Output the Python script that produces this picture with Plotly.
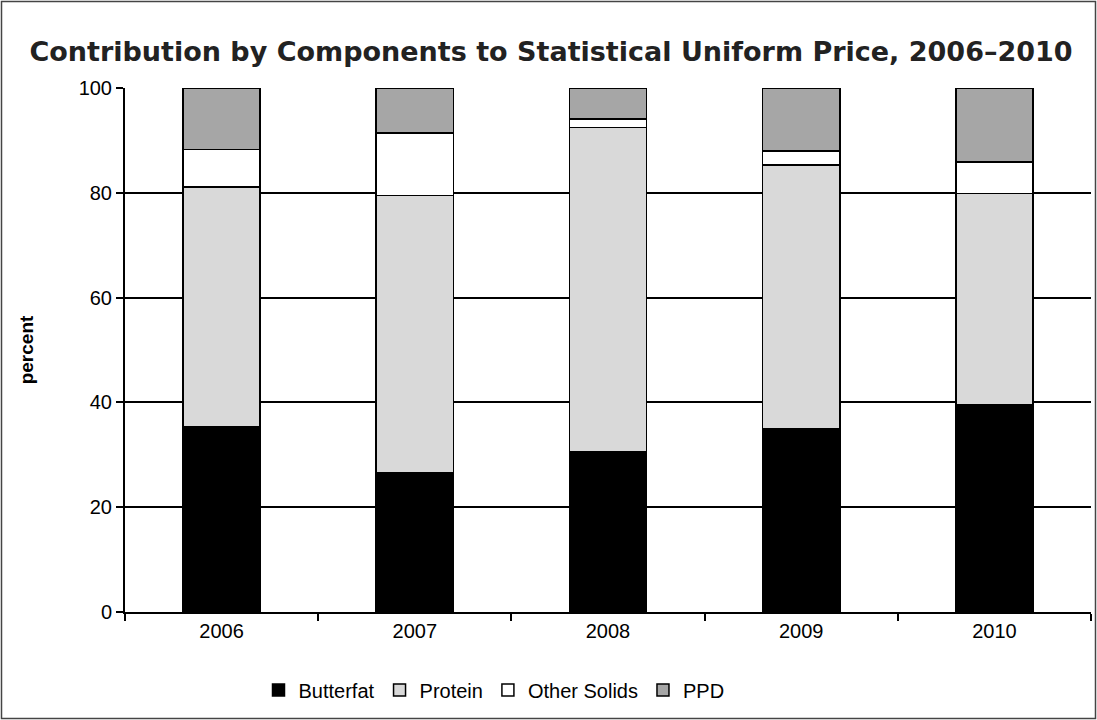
import plotly.graph_objects as go

years = ["2006", "2007", "2008", "2009", "2010"]
butterfat = [35.4, 26.6, 30.6, 34.9, 39.5]
protein = [45.7, 52.9, 61.9, 50.4, 40.4]
other_solids = [7.2, 11.9, 1.6, 2.7, 6.0]
ppd = [11.7, 8.6, 5.9, 12.0, 14.1]

series = [
    ("Butterfat", butterfat, "#000000"),
    ("Protein", protein, "#d9d9d9"),
    ("Other Solids", other_solids, "#ffffff"),
    ("PPD", ppd, "#a6a6a6"),
]

fig = go.Figure()
for name, vals, col in series:
    fig.add_trace(go.Bar(
        x=years, y=vals, name=name,
        marker=dict(color=col, line=dict(color="#000000", width=1.5)),
        width=0.4,
    ))

font = "Liberation Sans, Arial, sans-serif"
W, H = 1097, 720
L, R, T, B = 125, 6, 88, 108
pw, ph = W - L - R, H - T - B
fig.update_layout(
    barmode="stack",
    width=W, height=H,
    paper_bgcolor="white", plot_bgcolor="white",
    margin=dict(l=L, r=R, t=T, b=B),
    font=dict(family=font, size=20, color="#000000"),
    title=dict(
        text="<b>Contribution by Components to Statistical Uniform Price, 2006–2010</b>",
        x=(551 - L) / pw, xref="paper", xanchor="center", y=1 - 52 / H, yanchor="middle",
        font=dict(family="DejaVu Sans, sans-serif", size=27, color="#222222"),
    ),
    showlegend=True,
    legend=dict(
        orientation="h", x=(494 - L) / pw, xanchor="center", y=-(690 - (H - B)) / ph, yanchor="middle",
        font=dict(size=20), itemwidth=30, traceorder="normal",
        bgcolor="rgba(0,0,0,0)",
    ),
)
fig.update_xaxes(
    showline=True, linecolor="#000000", linewidth=2,
    ticks="outside", tickson="boundaries", ticklen=7, tickwidth=2, tickcolor="#000000",
    showgrid=False, tickfont=dict(size=20),
)
fig.update_yaxes(
    range=[0, 100], dtick=20, tick0=0,
    showline=True, linecolor="#000000", linewidth=2,
    ticks="outside", ticklen=7, tickwidth=2, tickcolor="#000000",
    showgrid=True, gridcolor="#000000", gridwidth=2,
    zeroline=False,
    title=dict(text="<b>percent</b>", font=dict(size=19), standoff=40),
    tickfont=dict(size=20),
)
fig.add_shape(type="rect", xref="paper", yref="paper",
              x0=-(L - 1.5) / pw, x1=1 + (R - 1.5) / pw, y0=-(B - 1.5) / ph, y1=1 + (T - 1.5) / ph,
              line=dict(color="#444444", width=1.5), fillcolor="rgba(0,0,0,0)", layer="below")

fig.write_html("out.html", config={"displayModeBar": False},
               post_script="document.body.style.margin='0';")
